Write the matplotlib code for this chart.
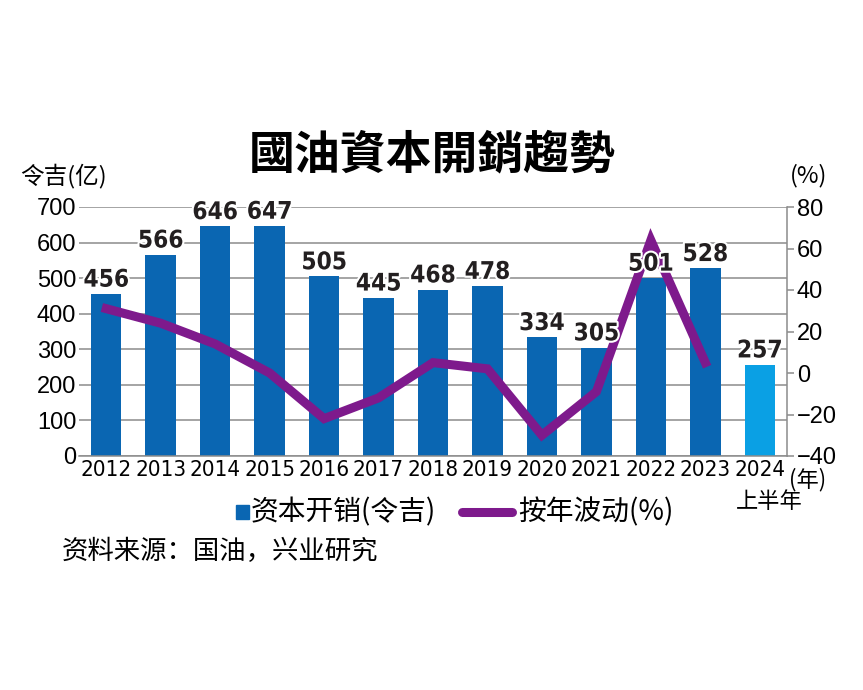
import os
import matplotlib
matplotlib.use("Agg")
import matplotlib.pyplot as plt
import matplotlib.patheffects as pe
from matplotlib import font_manager as fm
from matplotlib.lines import Line2D
from matplotlib.patches import Rectangle

# data
years = ["2012", "2013", "2014", "2015", "2016", "2017", "2018",
         "2019", "2020", "2021", "2022", "2023", "2024"]
capex = [456, 566, 646, 647, 505, 445, 468, 478, 334, 305, 501, 528, 257]
yoy_pct = [31, 24, 14, 0, -22, -12, 5, 2, -30, -9, 64, 5]  # no value for 2024 H1

left_ticks = [0, 100, 200, 300, 400, 500, 600, 700]
right_ticks = [-40, -20, 0, 20, 40, 60, 80]

BLUE = "#0a66b2"
LIGHT = "#0aa0e4"
PURPLE = "#7e1a8c"
GRID = "#8c8c8c"
INK = "#231f20"

CJK = ["Noto Sans CJK SC", "DejaVu Sans"]


def find_font(keys, bold=False):
    # look for a narrow / condensed face on disk
    for k in keys:
        for f in fm.fontManager.ttflist:
            fn = os.path.basename(f.fname)
            if k in fn and ("Bold" in fn) == bold and "Italic" not in fn and "Oblique" not in fn:
                return f.fname
    return None


narrow = find_font(["LiberationSansNarrow", "DejaVuSansCondensed"])
narrow_b = find_font(["LiberationSansNarrow", "DejaVuSansCondensed"], bold=True)


def nfont(size, bold=False):
    path = narrow_b if bold else narrow
    if path:
        return fm.FontProperties(fname=path, size=size)
    return fm.FontProperties(family="Liberation Sans", size=size,
                             weight="bold" if bold else "normal")


W, H = 863, 690
fig = plt.figure(figsize=(W / 100, H / 100), dpi=100)
fig.patch.set_facecolor("white")

x0, x1, y0, y1 = 79, 787, 207, 456
ax = fig.add_axes([x0 / W, 1 - y1 / H, (x1 - x0) / W, (y1 - y0) / H])
ax2 = ax.twinx()

xs = list(range(len(years)))
colors = [BLUE] * (len(years) - 1) + [LIGHT]
ax.bar(xs, capex, width=0.56, color=colors, zorder=2)

ax.set_xlim(-0.5, len(years) - 0.5)
ax.set_ylim(0, 700)
ax.set_yticks(left_ticks)
ax.set_yticklabels([str(t) for t in left_ticks], fontsize=17, family="Liberation Sans")
ax.grid(axis="y", color=GRID, linewidth=1.1, zorder=0)
ax.set_axisbelow(True)
ax.tick_params(axis="y", length=0, pad=2)
ax.set_xticks(xs)
ax.set_xticklabels(years, fontproperties=nfont(16))
ax.tick_params(axis="x", length=0, pad=3)
for s in ["top", "left", "right"]:
    ax.spines[s].set_visible(False)
ax.spines["bottom"].set_color(GRID)
ax.spines["bottom"].set_linewidth(1.1)

ax2.plot(xs[:len(yoy_pct)], yoy_pct, color=PURPLE, linewidth=6.5,
         solid_joinstyle="miter", zorder=3)
ax2.set_ylim(-40, 80)
ax2.set_yticks(right_ticks)
ax2.set_yticklabels([f"{t}".replace("-", "\u2212") for t in right_ticks],
                    fontsize=17, family="Liberation Sans")
ax2.tick_params(axis="y", length=5, width=1.1, color=GRID, pad=2)
for s in ["top", "left", "bottom"]:
    ax2.spines[s].set_visible(False)
ax2.spines["right"].set_color(GRID)
ax2.spines["right"].set_linewidth(1.1)

# value labels sit on top of the line, placed in bar coordinates
for x, v in zip(xs, capex):
    ax2.text(x, v + 6, str(v), transform=ax.transData, ha="center", va="bottom",
             fontproperties=nfont(17.5, bold=True), color=INK, zorder=6,
             path_effects=[pe.withStroke(linewidth=3, foreground="white")])

# titles and side labels
fig.text(432 / W, 1 - 155 / H, "國油資本開銷趨勢", ha="center", va="center",
         fontsize=33, fontweight="bold", family=["Noto Sans CJK TC", "DejaVu Sans"])
fig.text(20 / W, 1 - 176 / H, "令吉(亿)", ha="left", va="center", fontsize=17, family=CJK)
fig.text(790 / W, 1 - 176 / H, "(%)", ha="left", va="center", fontsize=17, family=CJK)
fig.text(789 / W, 1 - 480 / H, "(年)", ha="left", va="center", fontsize=16, family=CJK)
fig.text(769 / W, 1 - 502 / H, "上半年", ha="center", va="center", fontsize=16, family=CJK)

# legend drawn by hand so the swatch sizes match
ly = 1 - 512 / H
fig.add_artist(Rectangle((236 / W, 1 - 519 / H), 13 / W, 14 / H,
                         transform=fig.transFigure, color=BLUE))
fig.text(251 / W, ly, "资本开销(令吉)", ha="left", va="center", fontsize=20, family=CJK)
fig.add_artist(Line2D([462 / W, 512 / W], [ly, ly], transform=fig.transFigure,
                      color=PURPLE, linewidth=6.5, solid_capstyle="round"))
fig.text(518 / W, ly, "按年波动(%)", ha="left", va="center", fontsize=20, family=CJK)

fig.text(62 / W, 1 - 551 / H, "资料来源：国油，兴业研究", ha="left", va="center",
         fontsize=19, family=CJK)

fig.savefig("out.png", dpi=100, facecolor="white")
